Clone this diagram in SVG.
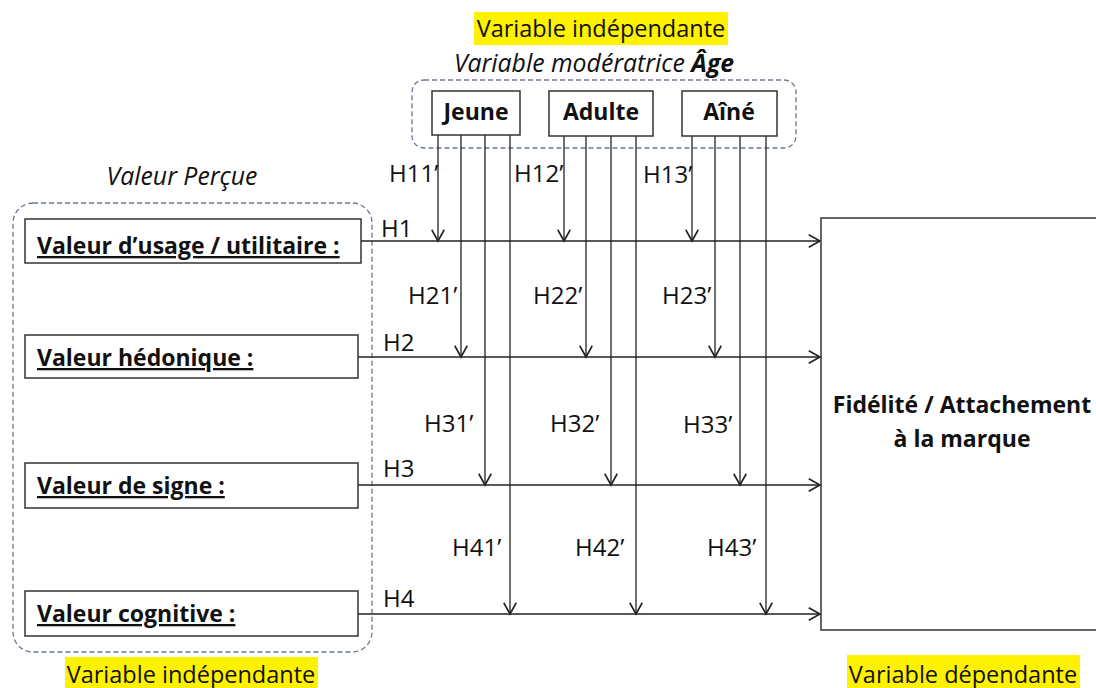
<svg xmlns="http://www.w3.org/2000/svg" width="1096" height="688" viewBox="0 0 1096 688">
<style>
text{font-family:"Open Sans","Liberation Sans",sans-serif;fill:#111}
.lbl{font-size:24px}
.hv{font-size:23.5px}
.b{font-size:23px;font-weight:bold}
.u{text-decoration:underline}
.it{font-style:italic;font-size:24.8px}
.box{fill:#fff;stroke:#333;stroke-width:1.5}
.dash{fill:none;stroke:#6b7892;stroke-width:1.3;stroke-dasharray:5 3}
.hl{fill:#fff200}
.ln{stroke:#222;stroke-width:1.3;fill:none;marker-end:url(#ah)}
</style>
<defs>
<marker id="ah" markerUnits="userSpaceOnUse" markerWidth="20" markerHeight="20" viewBox="-12 -8 14 16" refX="0" refY="0" orient="auto">
<path d="M-9,-5 L0,0 L-9,5" fill="none" stroke="#222" stroke-width="1.3"/>
</marker>
</defs>
<rect width="1096" height="688" fill="#fff"/>
<g id="titles">
<rect class="hl" x="474" y="12" width="254" height="33"/>
<text class="hv" x="601" y="37" text-anchor="middle">Variable indépendante</text>
<text class="it" x="594" y="72" text-anchor="middle">Variable modératrice <tspan font-weight="bold">Âge</tspan></text>
<text class="it" x="182" y="185" text-anchor="middle">Valeur Perçue</text>
<rect class="hl" x="65" y="657" width="253" height="31"/>
<text class="hv" x="191" y="683" text-anchor="middle">Variable indépendante</text>
<rect class="hl" x="847" y="655" width="233" height="33"/>
<text class="hv" x="963" y="683" text-anchor="middle">Variable dépendante</text>
</g>
<g id="moderator-group">
<rect class="dash" x="412" y="80" width="384" height="68" rx="12"/>
</g>
<g id="perceived-group">
<rect class="dash" x="13" y="203" width="359" height="449" rx="20"/>
</g>
<g id="connectors">
<line class="ln" x1="361" y1="241" x2="820" y2="241"/>
<line class="ln" x1="358" y1="357" x2="820" y2="357"/>
<line class="ln" x1="358" y1="485" x2="820" y2="485"/>
<line class="ln" x1="358" y1="614" x2="820" y2="614"/>
<line class="ln" x1="438" y1="135" x2="438" y2="241"/>
<line class="ln" x1="461" y1="135" x2="461" y2="357"/>
<line class="ln" x1="485" y1="135" x2="485" y2="485"/>
<line class="ln" x1="510" y1="135" x2="510" y2="614"/>
<line class="ln" x1="564" y1="136" x2="564" y2="241"/>
<line class="ln" x1="586" y1="136" x2="586" y2="357"/>
<line class="ln" x1="611" y1="136" x2="611" y2="485"/>
<line class="ln" x1="636" y1="136" x2="636" y2="614"/>
<line class="ln" x1="692" y1="136" x2="692" y2="241"/>
<line class="ln" x1="715" y1="136" x2="715" y2="357"/>
<line class="ln" x1="740" y1="136" x2="740" y2="485"/>
<line class="ln" x1="766" y1="136" x2="766" y2="614"/>
<g id="connector-labels">
<text class="lbl" x="381" y="237">H1</text>
<text class="lbl" x="383" y="351">H2</text>
<text class="lbl" x="383" y="477">H3</text>
<text class="lbl" x="383" y="607">H4</text>
<text class="lbl" x="389" y="182">H11’</text>
<text class="lbl" x="514" y="182">H12’</text>
<text class="lbl" x="643" y="183">H13’</text>
<text class="lbl" x="408" y="304">H21’</text>
<text class="lbl" x="533" y="304">H22’</text>
<text class="lbl" x="662" y="304">H23’</text>
<text class="lbl" x="424" y="432">H31’</text>
<text class="lbl" x="550" y="432">H32’</text>
<text class="lbl" x="683" y="433">H33’</text>
<text class="lbl" x="452" y="556">H41’</text>
<text class="lbl" x="575" y="556">H42’</text>
<text class="lbl" x="707" y="556">H43’</text>
</g>
</g>
<g id="jeune">
<rect class="box" x="432" y="91" width="88" height="44"/>
<text class="b" x="476" y="120" text-anchor="middle">Jeune</text>
</g>
<g id="adulte">
<rect class="box" x="549" y="91" width="104" height="45"/>
<text class="b" x="601" y="120" text-anchor="middle">Adulte</text>
</g>
<g id="aine">
<rect class="box" x="682" y="91" width="95" height="45"/>
<text class="b" x="729" y="120" text-anchor="middle">Aîné</text>
</g>
<g id="usage">
<rect class="box" x="25" y="219" width="336" height="44"/>
<text class="b u" x="37" y="254">Valeur d’usage / utilitaire :</text>
</g>
<g id="hedonique">
<rect class="box" x="25" y="335" width="333" height="43"/>
<text class="b u" x="37" y="366">Valeur hédonique :</text>
</g>
<g id="signe">
<rect class="box" x="25" y="463" width="333" height="45"/>
<text class="b u" x="37" y="494">Valeur de signe :</text>
</g>
<g id="cognitive">
<rect class="box" x="25" y="591" width="333" height="45"/>
<text class="b u" x="37" y="622">Valeur cognitive :</text>
</g>
<g id="fidelite">
<rect class="box" x="821" y="218" width="290" height="412"/>
<text class="b" x="962" y="413" text-anchor="middle">Fidélité / Attachement</text>
<text class="b" x="962" y="447" text-anchor="middle">à la marque</text>
</g>
</svg>
